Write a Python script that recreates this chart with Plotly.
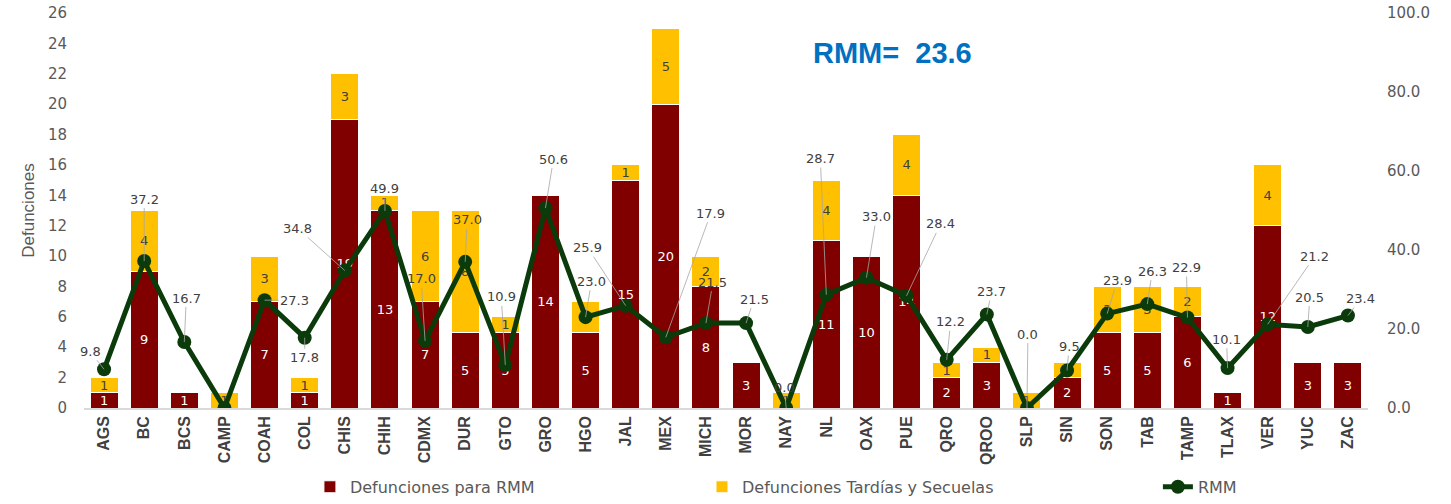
import plotly.graph_objects as go

# ---------------- data ----------------
states = ["AGS", "BC", "BCS", "CAMP", "COAH", "COL", "CHIS", "CHIH", "CDMX", "DUR",
          "GTO", "GRO", "HGO", "JAL", "MEX", "MICH", "MOR", "NAY", "NL", "OAX",
          "PUE", "QRO", "QROO", "SLP", "SIN", "SON", "TAB", "TAMP", "TLAX", "VER",
          "YUC", "ZAC"]
deaths_rmm = [1, 9, 1, 0, 7, 1, 19, 13, 7, 5,
              5, 14, 5, 15, 20, 8, 3, 0, 11, 10,
              14, 2, 3, 0, 2, 5, 5, 6, 1, 12,
              3, 3]
deaths_late = [1, 4, 0, 1, 3, 1, 3, 1, 6, 8,
               1, 0, 2, 1, 5, 2, 0, 1, 4, 0,
               4, 1, 1, 1, 1, 3, 3, 2, 0, 4,
               0, 0]
rmm_rate = [9.8, 37.2, 16.7, 0.0, 27.3, 17.8, 34.8, 49.9, 17.0, 37.0,
            10.9, 50.6, 23.0, 25.9, 17.9, 21.5, 21.5, 0.0, 28.7, 33.0,
            28.4, 12.2, 23.7, 0.0, 9.5, 23.9, 26.3, 22.9, 10.1, 21.2,
            20.5, 23.4]
rmm_national = 23.6

# label offsets (pixels) for RMM data labels; None = label not shown
label_offsets = [(-14, -18), (0, -62), (2, -44), None, (30, 0), (0, 20),
                 (-47, -42), (0, -22), (-4, -62), (2, -42), (-4, -68),
                 (8, -49), (6, -36), (-38, -58), (45, -124), (7, -41),
                 (8, -24), (-2, -21), (-6, -136), (10, -61), (34, -72),
                 (4, -38), (5, -23), (1, -74), (2, -24), (10, -33),
                 (5, -33), (-1, -50), (-1, -29), (47, -68), (2, -30),
                 (13, -17)]

# ---------------- styles ----------------
RED = "#800000"
YELLOW = "#FFC000"
GREEN = "#0B3B0B"
GRAY = "#595959"
DARK = "#404040"
NUM_FONT = "DejaVu Sans, Verdana, sans-serif"
NARROW = "Liberation Sans Narrow, Arial Narrow, Liberation Sans, sans-serif"

fig = go.Figure()

fig.add_trace(go.Bar(
    x=states, y=deaths_rmm, name="Defunciones para RMM",
    marker=dict(color=RED, line=dict(color="white", width=1)),
    text=[str(v) if v else "" for v in deaths_rmm],
    textposition="inside", insidetextanchor="middle", constraintext="none",
    textangle=0,
    textfont=dict(family=NUM_FONT, size=13, color="white"),
    legend="legend", showlegend=True,
))
fig.add_trace(go.Bar(
    x=states, y=deaths_late, name="Defunciones Tardías y Secuelas",
    marker=dict(color=YELLOW, line=dict(color="white", width=1)),
    text=[str(v) if v else "" for v in deaths_late],
    textposition="inside", insidetextanchor="middle", constraintext="none",
    textangle=0,
    textfont=dict(family=NUM_FONT, size=13, color=DARK),
    legend="legend2", showlegend=True,
))
fig.add_trace(go.Scatter(
    x=states, y=rmm_rate, name="RMM", yaxis="y2",
    mode="lines+markers",
    line=dict(color=GREEN, width=5),
    marker=dict(color=GREEN, size=14),
    legend="legend3", showlegend=True,
))

annotations = []
for s, v, off in zip(states, rmm_rate, label_offsets):
    if off is None:
        continue
    annotations.append(dict(
        x=s, y=v, xref="x", yref="y2", text=f"{v:.1f}",
        showarrow=True, arrowhead=0, arrowwidth=0.8, arrowcolor="#A6A6A6",
        standoff=0, ax=off[0], ay=off[1],
        font=dict(family=NUM_FONT, size=13, color=DARK),
    ))
annotations.append(dict(
    x=0.630, y=0.944, xref="paper", yref="paper",
    text=f"RMM=\u00a0\u00a0{rmm_national:.1f}", showarrow=False,
    font=dict(family="Liberation Sans, Arial, sans-serif", size=29,
              color="#0070C0", weight="bold"),
))

legend_common = dict(orientation="h", yref="container", xref="container",
                     yanchor="middle", y=0.034, xanchor="left",
                     bgcolor="rgba(0,0,0,0)",
                     font=dict(family=NUM_FONT, size=16, color=GRAY))

fig.update_layout(
    width=1451, height=504,
    margin=dict(l=84, r=83, t=13, b=96),
    paper_bgcolor="white", plot_bgcolor="white",
    showlegend=True,
    barmode="stack", bargap=0.3,
    annotations=annotations,
    legend=dict(legend_common, x=0.2136),
    legend2=dict(legend_common, x=0.4838),
    legend3=dict(legend_common, x=0.798),
    xaxis=dict(
        automargin=False,
        range=[-0.5, len(states) - 0.5],
        showline=True, linecolor="#D9D9D9", linewidth=1.5,
        tickangle=-90, ticks="",
        tickfont=dict(family=NARROW, size=16, color=DARK, weight="bold"),
        showgrid=False,
    ),
    yaxis=dict(
        automargin=False,
        range=[0, 26], dtick=2, showgrid=False, zeroline=False,
        tickfont=dict(family=NUM_FONT, size=15, color=GRAY),
        ticklabelstandoff=16,
        title=dict(text="Defunciones", standoff=8,
                   font=dict(family=NARROW, size=17, color=GRAY)),
    ),
    yaxis2=dict(
        automargin=False,
        range=[0, 100], dtick=20, tickformat=".1f", overlaying="y", side="right",
        showgrid=False, zeroline=False,
        tickfont=dict(family=NUM_FONT, size=15, color=GRAY),
        ticklabelstandoff=18,
    ),
)

fig.write_html("out.html")
